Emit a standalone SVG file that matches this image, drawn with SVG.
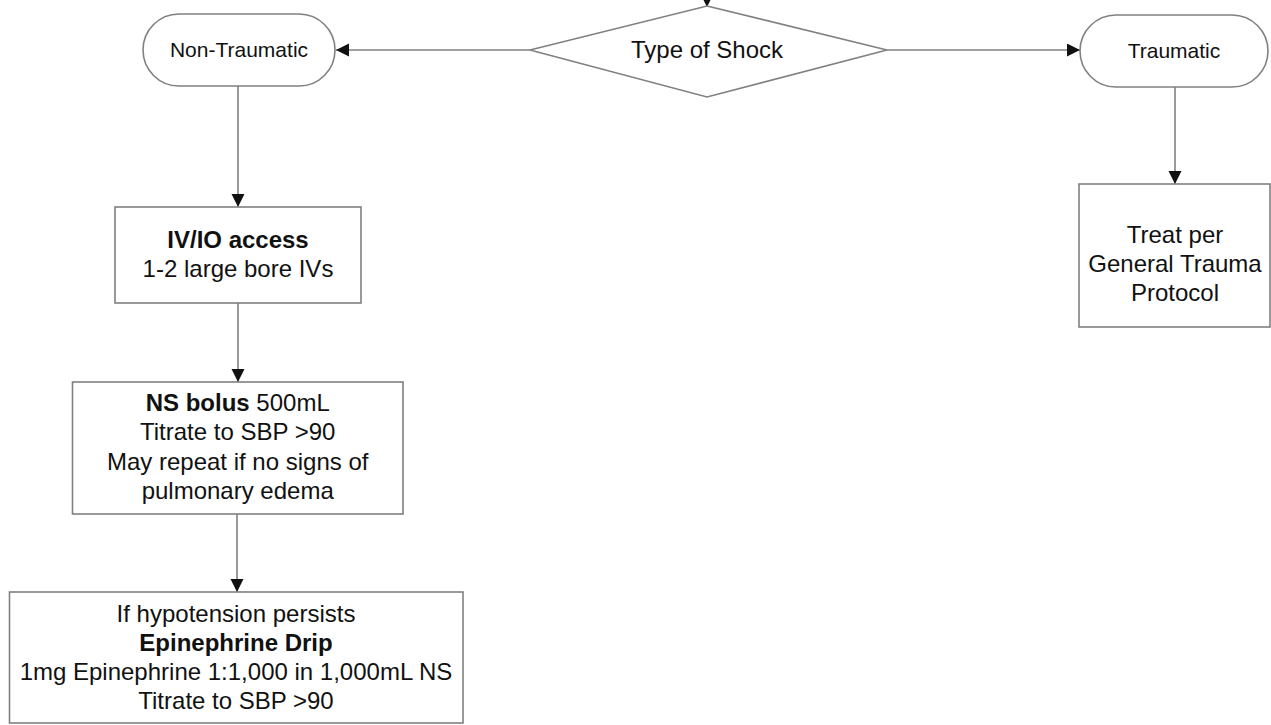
<svg xmlns="http://www.w3.org/2000/svg" width="1271" height="725" viewBox="0 0 1271 725">
<style>
.shape{fill:#fff;stroke:#808080;stroke-width:1.6}
.edge{fill:none;stroke:#808080;stroke-width:1.6}
.t{font-family:"Liberation Sans",Arial,sans-serif;font-size:24px;fill:#111;text-anchor:middle}
.ts{font-size:21px}
.b{font-weight:bold}
</style>
<defs>
<marker id="arr" markerUnits="userSpaceOnUse" markerWidth="14" markerHeight="14" refX="13" refY="6.5" orient="auto">
<path d="M0,0 L13,6.5 L0,13 z" fill="#111"/>
</marker>
</defs>
<g id="connectors">
<line class="edge" x1="707" y1="-10" x2="707" y2="7" marker-end="url(#arr)"/>
<line class="edge" x1="530" y1="50" x2="336" y2="50" marker-end="url(#arr)"/>
<line class="edge" x1="887" y1="50" x2="1080" y2="50" marker-end="url(#arr)"/>
<line class="edge" x1="238" y1="86" x2="238" y2="207" marker-end="url(#arr)"/>
<line class="edge" x1="238" y1="303" x2="238" y2="382" marker-end="url(#arr)"/>
<line class="edge" x1="237" y1="514" x2="237" y2="592" marker-end="url(#arr)"/>
<line class="edge" x1="1175" y1="87" x2="1175" y2="184" marker-end="url(#arr)"/>
</g>
<g id="type-of-shock">
<polygon class="shape" points="707,6 887,50 707,97 530,50"/>
<text class="t" x="707" y="57.5">Type of Shock</text>
</g>
<g id="non-traumatic">
<rect class="shape" x="143" y="14" width="192" height="72" rx="36" ry="36"/>
<text class="t ts" x="239" y="57">Non-Traumatic</text>
</g>
<g id="traumatic">
<rect class="shape" x="1080" y="15" width="188" height="72" rx="36" ry="36"/>
<text class="t ts" x="1174" y="57.5">Traumatic</text>
</g>
<g id="iv-access">
<rect class="shape" x="115" y="207" width="246" height="96"/>
<text class="t" x="238" y="248"><tspan class="b">IV/IO access</tspan></text>
<text class="t" x="238" y="277">1-2 large bore IVs</text>
</g>
<g id="ns-bolus">
<rect class="shape" x="72.5" y="382" width="330.5" height="132"/>
<text class="t" x="237.7" y="411"><tspan class="b">NS bolus</tspan> 500mL</text>
<text class="t" x="237.7" y="440">Titrate to SBP &gt;90</text>
<text class="t" x="237.7" y="469.5">May repeat if no signs of</text>
<text class="t" x="237.7" y="498.5">pulmonary edema</text>
</g>
<g id="epinephrine">
<rect class="shape" x="9.5" y="592" width="453.5" height="131"/>
<text class="t" x="236" y="622">If hypotension persists</text>
<text class="t b" x="236" y="651">Epinephrine Drip</text>
<text class="t" x="236" y="679.5">1mg Epinephrine 1:1,000 in 1,000mL NS</text>
<text class="t" x="236" y="708.5">Titrate to SBP &gt;90</text>
</g>
<g id="trauma-protocol">
<rect class="shape" x="1079" y="184" width="191" height="143"/>
<text class="t" x="1175" y="243">Treat per</text>
<text class="t" x="1175" y="272">General Trauma</text>
<text class="t" x="1175" y="301">Protocol</text>
</g>
</svg>
